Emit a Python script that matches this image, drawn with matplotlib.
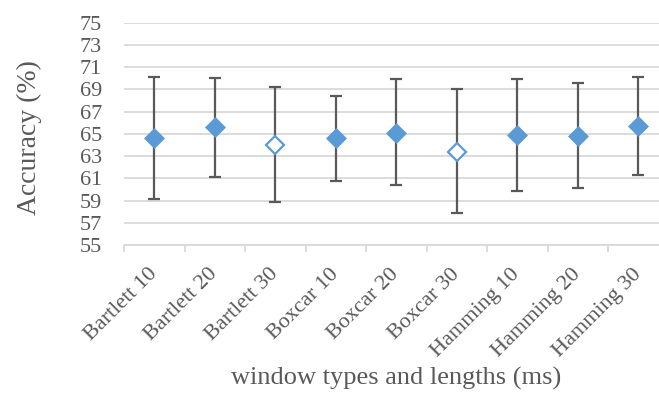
import matplotlib
matplotlib.use("Agg")
import matplotlib.pyplot as plt
import numpy as np

categories = ["Bartlett 10", "Bartlett 20", "Bartlett 30", "Boxcar 10", "Boxcar 20",
              "Boxcar 30", "Hamming 10", "Hamming 20", "Hamming 30"]
accuracy = [64.6, 65.6, 64.0, 64.6, 65.1, 63.4, 64.9, 64.8, 65.7]
upper = [70.1, 70.0, 69.2, 68.4, 69.9, 69.0, 69.9, 69.6, 70.1]
lower = [59.1, 61.1, 58.9, 60.8, 60.4, 57.9, 59.9, 60.1, 61.3]
hollow = [False, False, True, False, False, True, False, False, False]
yticks = list(range(55, 76, 2))

blue = "#5B9BD5"
gray = "#595959"
grid = "#D9D9D9"

plt.rcParams['font.family'] = ['Liberation Serif', 'DejaVu Serif']

fig = plt.figure(figsize=(6.59, 4.12), dpi=100)
ax = fig.add_axes([124/659, (412-245)/412, (668.5-124)/659, (245-22.7)/412])

x = np.arange(len(categories))
acc = np.array(accuracy)
yerr = np.vstack([acc - np.array(lower), np.array(upper) - acc])
ax.errorbar(x, acc, yerr=yerr, fmt='none', ecolor=gray, elinewidth=1.6,
            capsize=4.3, capthick=1.6, zorder=3)
for xi, yi, h in zip(x, acc, hollow):
    if h:
        ax.plot(xi, yi, marker='D', markersize=9, markerfacecolor='white',
                markeredgecolor=blue, markeredgewidth=1.6, linestyle='none', zorder=4)
    else:
        ax.plot(xi, yi, marker='D', markersize=10, markerfacecolor=blue,
                markeredgecolor=blue, markeredgewidth=0.5, linestyle='none', zorder=4)

ax.set_xlim(-0.5, len(categories) - 0.5)
ax.set_ylim(55, 75)
ax.set_yticks(yticks)
ax.set_yticklabels([str(t) for t in yticks], fontsize=16, color=gray)
ax.yaxis.grid(True, color=grid, linewidth=1.3)
ax.set_axisbelow(True)
ax.tick_params(axis='y', length=0, pad=16)

ax.set_xticks(x)
ax.set_xticklabels(categories, rotation=45, ha='right', va='center',
                   rotation_mode='anchor', fontsize=16, color=gray)
ax.tick_params(axis='x', which='major', length=0, pad=19)
ax.set_xticks(np.arange(-0.5, len(categories) + 0.5, 1), minor=True)
ax.tick_params(axis='x', which='minor', length=5, width=1.3, color=grid)

for s in ['top', 'right', 'left']:
    ax.spines[s].set_visible(False)
ax.spines['bottom'].set_color(grid)
ax.spines['bottom'].set_linewidth(1.3)

fig.text(29/659, 1 - 138/412, "Accuracy (%)", fontsize=20, color=gray,
         ha='center', va='center', rotation=90)
fig.text(396/659, 1 - 378/412, "window types and lengths (ms)", fontsize=19,
         color=gray, ha='center', va='center')

fig.savefig("out.png", dpi=100)
